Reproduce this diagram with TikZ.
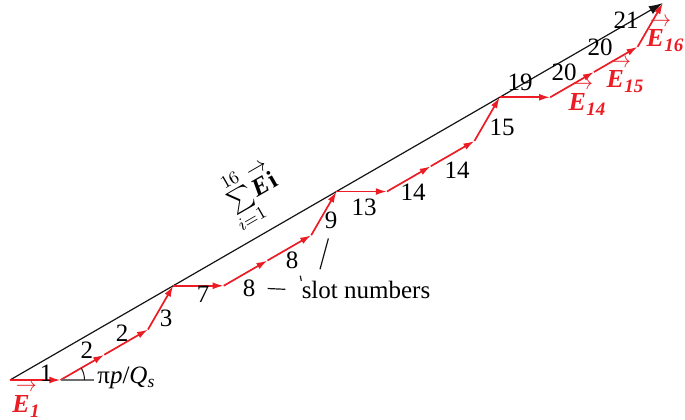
\documentclass[tikz,border=0pt]{standalone}
\usepackage{amsmath}
\usepackage{graphicx}
\usepackage{fontspec}
\setmainfont{Liberation Serif}
\usepackage{tikz}
\usetikzlibrary{arrows.meta, positioning, calc}
\definecolor{vecred}{RGB}{235,28,36}
\definecolor{mydark}{RGB}{20,20,20}
\definecolor{refgray}{RGB}{110,110,110}
\newcommand{\vecE}{\vbox{\offinterlineskip
  \hbox to 0pt{\kern1.8pt\resizebox{10.5pt}{4.2pt}{$\rightarrow$}\hss}\kern1.8pt
  \hbox{\textbf{\textit{E}}}}}
\newcommand{\phasorE}[1]{\vecE\kern0.3pt\raisebox{-2.5pt}{\fontsize{9.5}{10}\selectfont\textbf{\textit{#1}}}}
\tikzset{
  phasor/.style={vecred, line width=0.85pt, -{Latex[length=5.5pt,width=3.4pt]}},
  resultant/.style={mydark, line width=0.6pt, -{Latex[length=7pt,width=4.5pt]}},
  refline/.style={refgray, line width=0.8pt},
  anglearc/.style={mydark, line width=0.5pt},
  leader/.style={mydark, line width=0.6pt},
  slotlbl/.style={font=\fontsize{12.5}{14}\selectfont, inner sep=0pt},
  elbl/.style={text=vecred, font=\fontsize{13}{15}\selectfont, inner sep=0pt}
}

\begin{document}
\begin{tikzpicture}[x=0.5pt, y=0.5pt]
  \useasboundingbox (-10,-39) rectangle (675,380);
  \coordinate (p0) at (0,0);
  % coil phasors E1 ... E16
  \foreach \ang [count=\i] in {0,30,30,60,0,30,30,60,0,30,30,60,0,30,30,60} {
    \pgfmathtruncatemacro\j{\i-1}
    \coordinate (p\i) at ($(p\j)+(\ang:50.5)$);
  }
  \draw[resultant] (p0) -- (p16);
  \foreach \i in {1,...,16} {
    \pgfmathtruncatemacro\j{\i-1}
    \draw[phasor] (p\j) -- (p\i);
  }
  % slot angle
  \coordinate (ref) at ($(p1)+(33,0)$);
  \draw[refline] (p1) -- (ref);
  \draw[anglearc] ($(p1)+(24,0)$) arc[start angle=0, end angle=30, radius=24];
  \node[slotlbl, anchor=west] (alpha) at (87,2) {π\textit{p}/\textit{Q}\textsubscript{\textit{s}}};
  % slot numbers
  \foreach \txt/\x/\y [count=\k] in {1/36/7, 2/77/30, 2/112/47, 3/156/62,
      7/193/86, 8/239/92, 8/282/120, 9/321/160, 13/354/173, 14/403/188,
      14/447/210, 15/492/253, 19/510/298, 20/554/308, 20/590/333, 21/616/360}
    \node[slotlbl] (s\k) at (\x,\y) {\txt};
  \node[slotlbl] (slotnum) at (356,90) {slot numbers};
  \draw[leader, shorten <=6pt, shorten >=8pt] (s6.east) -- (slotnum.west);
  \draw[leader, shorten >=3.5pt] (slotnum.north west) -- (s7.south east);
  \draw[leader, shorten <=6pt, shorten >=5pt]
    ($(slotnum.north west)!0.12!(slotnum.north east)$) -- (s8.south);
  % phasor labels
  \node[elbl] (e1)  at (16,-20)  {\phasorE{1}};
  \node[elbl] (e14) at (577,282) {\phasorE{14}};
  \node[elbl] (e15) at (615,304) {\phasorE{15}};
  \node[elbl] (e16) at (655,345) {\phasorE{16}};
  \node[slotlbl, rotate=30] (sum) at (242,187)
    {$\sum\limits_{i=1}^{16}$\vecE\kern1pt\textbf{i}};
\end{tikzpicture}
\end{document}
